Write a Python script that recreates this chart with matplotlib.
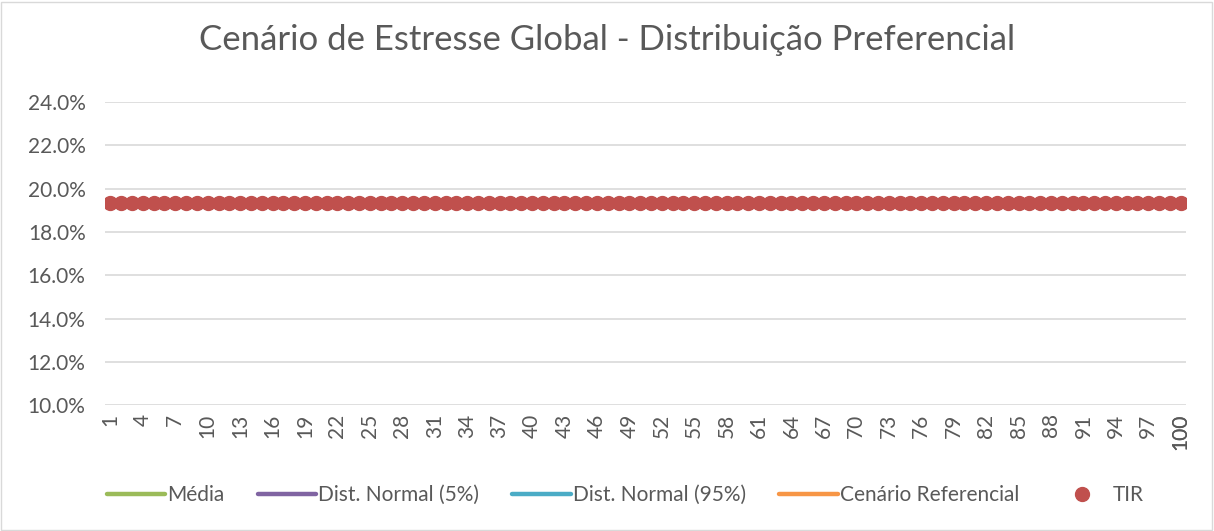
import matplotlib.pyplot as plt
import numpy as np
from matplotlib.ticker import FuncFormatter

plt.rcParams['font.family'] = ['Lato', 'DejaVu Sans']

# data
periods = list(range(1, 101))
tir = [0.1935] * 100
media = [0.1935] * 100
dist_5 = [0.1935] * 100
dist_95 = [0.1935] * 100
cenario_ref = [0.1935] * 100
xtick_labels = [str(i) for i in range(1, 101, 3)] + ['100']

grey = '#595959'

fig = plt.figure(figsize=(12.14, 5.31), dpi=100)
ax = fig.add_axes([0.0865, 0.237, 0.8905, 0.571])

ax.plot(periods, media, color='#9bbb59', lw=3.2, label='Média', zorder=2,
        solid_capstyle='round')
ax.plot(periods, dist_5, color='#8064a2', lw=3.2, label='Dist. Normal (5%)', zorder=2,
        solid_capstyle='round')
ax.plot(periods, dist_95, color='#4bacc6', lw=3.2, label='Dist. Normal (95%)', zorder=2,
        solid_capstyle='round')
ax.plot(periods, cenario_ref, color='#f79646', lw=3.2, label='Cenário Referencial', zorder=2,
        solid_capstyle='round')
ax.plot(periods, tir, 'o', color='#c0504d', ms=10, label='TIR', zorder=3)

ax.set_xlim(0.5, 100.5)
ax.set_ylim(0.10, 0.24)
ax.set_yticks(np.arange(0.10, 0.2401, 0.02))
ax.yaxis.set_major_formatter(FuncFormatter(lambda v, p: f'{v*100:.1f}%'))
tick_pos = list(range(1, 101, 3)) + [100]
ax.set_xticks(tick_pos)
ax.set_xticklabels(xtick_labels, rotation=90)
ax.tick_params(length=0, labelsize=15, colors=grey, pad=6)
ax.tick_params(axis='y', pad=14)
ax.grid(axis='y', color='#d9d9d9', lw=1.2)
ax.set_axisbelow(True)
for s in ax.spines.values():
    s.set_visible(False)

fig.suptitle('Cenário de Estresse Global - Distribuição Preferencial',
             y=0.955, fontsize=25, color=grey)

fig.legend(loc='center', bbox_to_anchor=(0.515, 0.068), ncol=5, frameon=False,
           fontsize=15, labelcolor=grey, handlelength=2.8, handletextpad=0.1,
           columnspacing=1.6)

# outer chart border
fig.add_artist(plt.Rectangle((0.001, 0.002), 0.997, 0.995, transform=fig.transFigure,
                             fill=False, ec='#d9d9d9', lw=1))

fig.savefig('out.png', dpi=100)
